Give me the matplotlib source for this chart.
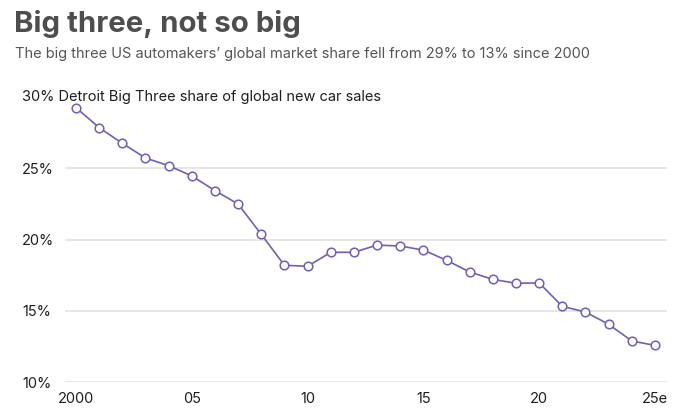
import numpy as np
import matplotlib.pyplot as plt

plt.rcParams['font.family'] = ['Inter', 'DejaVu Sans']

# --- data ---
years = list(range(2000, 2026))
share = [29.25, 27.85, 26.75, 25.72, 25.18, 24.46, 23.43, 22.49, 20.36, 18.19,
         18.12, 19.10, 19.10, 19.61, 19.54, 19.26, 18.54, 17.72, 17.20, 16.93,
         16.95, 15.31, 14.91, 14.05, 12.88, 12.57]

xtick_pos = [2000, 2005, 2010, 2015, 2020, 2025]
xtick_labels = ['2000', '05', '10', '15', '20', '25e']
ytick_pos = [10, 15, 20, 25]
ytick_labels = ['10%', '15%', '20%', '25%']

title = 'Big three, not so big'
subtitle = 'The big three US automakers\u2019 global market share fell from 29% to 13% since 2000'
axis_note = '30% Detroit Big Three share of global new car sales'

line_col = '#6a62b6'
text_col = '#1e1e1e'

fig = plt.figure(figsize=(6.8, 4.2), dpi=100, facecolor='white')
ax = fig.add_axes([65 / 680, 38 / 420, 602 / 680, 285 / 420])

ax.plot(years, share, color=line_col, lw=1.2, marker='o', ms=6.2,
        mfc='white', mec=line_col, mew=1.1, zorder=3, clip_on=False)

ax.set_xlim(1999.525, 2025.52)
ax.set_ylim(10, 30)

ax.set_yticks(ytick_pos)
ax.set_yticklabels(ytick_labels, ha='left')
ax.set_xticks(xtick_pos)
ax.set_xticklabels(xtick_labels)
ax.tick_params(axis='y', length=0, pad=31, labelsize=10.5, labelcolor=text_col)
ax.tick_params(axis='x', length=0, pad=7, labelsize=10.5, labelcolor=text_col)

ax.grid(axis='y', color='#e2e2e2', lw=1.2)
ax.set_axisbelow(True)
for s in ax.spines.values():
    s.set_visible(False)

# label that sits on the 30% line
ax.text(-43 / 602, 30, axis_note, transform=ax.get_yaxis_transform(),
        ha='left', va='center', fontsize=10.5, color=text_col)

fig.text(14 / 680, 1 - 32.3 / 420, title, fontsize=21.2, fontweight='bold',
         color='#4e4e4e', va='baseline', ha='left')
fig.text(15 / 680, 1 - 58.3 / 420, subtitle, fontsize=10.5,
         color='#555555', va='baseline', ha='left')

fig.savefig('out.png', dpi=100, facecolor='white')
